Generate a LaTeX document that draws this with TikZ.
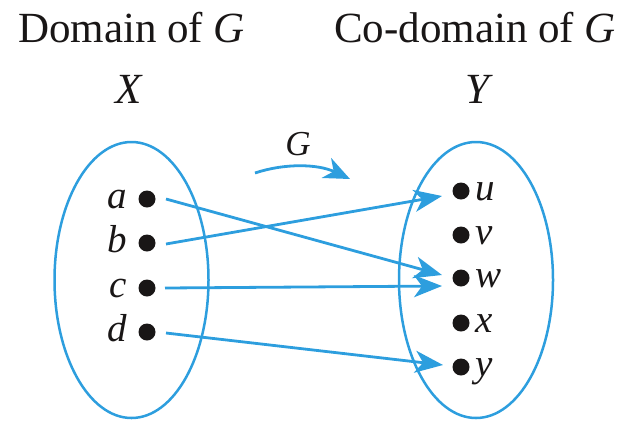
\documentclass[tikz,border=0pt]{standalone}
\usepackage{fontspec}
\setmainfont{Liberation Serif}
\usetikzlibrary{arrows.meta,calc,shapes.geometric}
\definecolor{fblue}{RGB}{45,158,222}
\definecolor{ink}{RGB}{25,22,22}
\begin{document}
\begin{tikzpicture}[x=1pt,y=-1pt,
  set/.style={draw=fblue, line width=2.5pt, ellipse, minimum width=154pt, minimum height=276pt, inner sep=0pt},
  pt/.style={circle, fill=ink, minimum size=17pt, inner sep=0pt},
  lbl/.style={text=ink, font=\fontsize{39}{39}\selectfont\itshape, inner sep=0pt},
  ttl/.style={text=ink, font=\fontsize{43}{43}\selectfont, inner sep=0pt, anchor=base},
  map/.style={draw=fblue, line width=2.8pt, -{Stealth[length=28pt,width=22pt,inset=8pt]}}
]
\useasboundingbox (0,0) rectangle (628,421);
% titles
\node[ttl] (tdom) at (131.5,42) {Domain of \textit{G}};
\node[ttl] (tcod) at (475,42) {Co-domain of \textit{G}};
\node[ttl, font=\fontsize{43}{43}\selectfont\itshape] (tX) at (129,103) {X};
\node[ttl, font=\fontsize{43}{43}\selectfont\itshape] (tY) at (477,103) {Y};
% sets
\node[set] (SX) at (131.5,280) {};
\node[set] (SY) at (476,280) {};
% points
\node[pt] (pa) at (147,199) {};
\node[pt] (pb) at (147,243) {};
\node[pt] (pc) at (147,288) {};
\node[pt] (pd) at (147,332) {};
\node[pt] (pu) at (461,191) {};
\node[pt] (pv) at (461,235) {};
\node[pt] (pw) at (461,278) {};
\node[pt] (px) at (461,323) {};
\node[pt] (py) at (461,367) {};
% labels
\node[lbl, anchor=base east] (la) at ($(pa)+(-20,9)$) {a};
\node[lbl, anchor=base east] (lb) at ($(pb)+(-20,9)$) {b};
\node[lbl, anchor=base east] (lc) at ($(pc)+(-20,9)$) {c};
\node[lbl, anchor=base east] (ld) at ($(pd)+(-20,9)$) {d};
\node[lbl, anchor=base west] (lu) at ($(pu)+(14,9)$) {u};
\node[lbl, anchor=base west] (lv) at ($(pv)+(14,9)$) {v};
\node[lbl, anchor=base west] (lw) at ($(pw)+(14,9)$) {w};
\node[lbl, anchor=base west] (lx) at ($(px)+(14,9)$) {x};
\node[lbl, anchor=base west] (ly) at ($(py)+(14,9)$) {y};
% mapping arrows
\draw[map] ($(pa)+(19,0)$) -- ($(pw)+(-19,-3)$);
\draw[map] ($(pb)+(19,1)$) -- ($(pu)+(-19,5)$);
\draw[map] ($(pc)+(18,0)$) -- ($(pw)+(-19,8)$);
\draw[map] ($(pd)+(19,1)$) -- ($(py)+(-18,-2)$);
% G arrow
\coordinate (gs) at (255,173);
\coordinate (ge) at (350,179);
\draw[draw=fblue, line width=2.8pt, -{Stealth[length=26pt,width=22pt,inset=8pt]}] (gs) .. controls (285,163) and (318,164) .. (ge);
\node[lbl, font=\fontsize{35}{35}\selectfont\itshape, anchor=base] (lG) at (298,155) {G};
\end{tikzpicture}
\end{document}
